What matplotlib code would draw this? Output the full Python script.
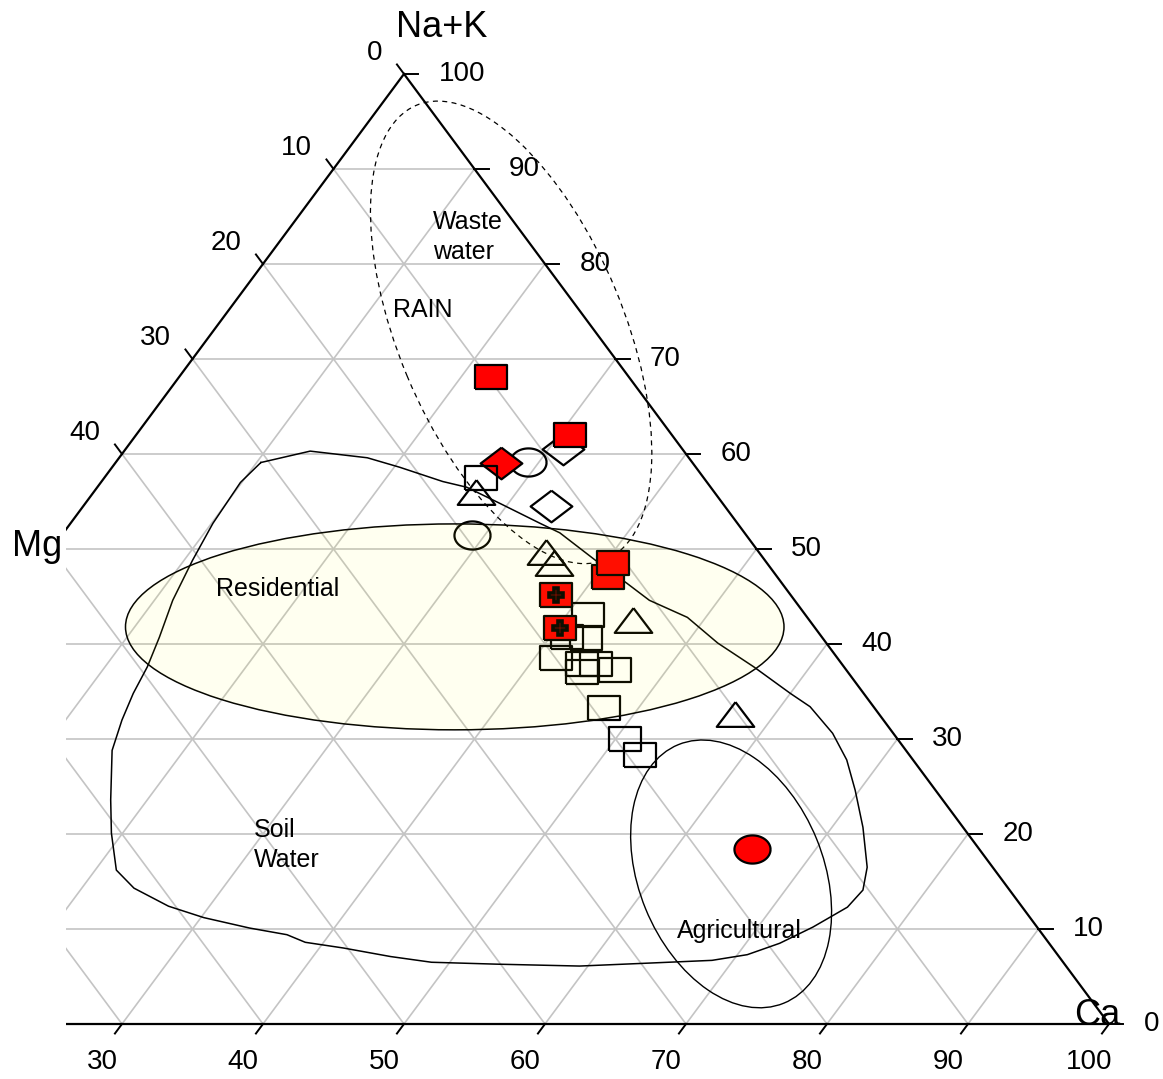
import numpy as np
import matplotlib
matplotlib.use("Agg")
import matplotlib.pyplot as plt
from matplotlib.patches import Ellipse

plt.rcParams['font.family'] = ['Liberation Sans', 'DejaVu Sans']

# --- samples, % of cations: Ca and Na+K (Mg is the rest) ---
red_sq_ca = [22.1, 30.8, 40.9, 40.6]
red_sq_nak = [68.1, 62.0, 47.1, 48.5]
red_cross_ca = [38.2, 40.2]
red_cross_nak = [45.2, 41.7]
red_dia_ca = [27.3]
red_dia_nak = [59.1]
red_circ_ca = [65.5]
red_circ_nak = [18.4]

open_sq_ca = [26.7, 41.5, 41.2, 42.6, 41.5, 43.7, 44.1, 44.7, 46.3, 47.5, 50.7, 52.6]
open_sq_nak = [57.5, 43.1, 40.7, 40.6, 38.5, 37.9, 37.1, 37.9, 37.3, 33.3, 30.0, 28.3]
open_tri_ca = [27.1, 35.2, 36.4, 45.0, 57.2]
open_tri_nak = [56.0, 49.7, 48.5, 42.5, 32.6]
open_circ_ca = [29.2, 29.1]
open_circ_nak = [59.2, 51.5]
open_dia_ca = [31.0, 33.2]
open_dia_nak = [60.5, 54.5]

# soil water field outline
soil_ca = [10.3, 13.2, 17.6, 20.4, 24.2, 26.2, 29.4, 33.3, 35.2, 39.6, 42.6, 45.1,
           48.7, 52.2, 56.0, 60.0, 62.1, 65.1, 67.5, 69.7, 72.2, 74.6, 75.5, 75.3,
           73.9, 72.4, 70.7, 68.5, 64.0, 59.4, 53.4, 48.7, 45.5, 41.7, 38.7, 37.0,
           34.0, 30.2, 27.1, 23.7, 21.5, 19.2, 17.4, 14.9, 14.0, 13.4, 13.0, 12.3,
           11.3, 10.6, 10.1, 9.9, 10.3]
soil_nak = [59.1, 60.3, 59.6, 58.6, 57.1, 56.5, 54.8, 52.7, 51.7, 48.5, 46.4, 44.6,
            42.8, 40.1, 37.6, 34.8, 33.4, 30.6, 27.8, 24.6, 20.7, 16.5, 14.1, 12.3,
            10.2, 8.5, 7.3, 6.7, 6.4, 6.1, 6.3, 6.5, 7.1, 8.0, 8.6, 9.4,
            10.1, 11.2, 12.4, 14.3, 16.2, 20.1, 23.6, 28.8, 32.0, 34.8, 37.6, 40.7,
            44.6, 48.8, 52.7, 57.0, 59.1]

tick_vals = list(range(0, 101, 10))

K = 9.5 / 14.1  # the printed triangle is squashed vertically


def tern(ca, nak):
    ca = np.asarray(ca, float)
    nak = np.asarray(nak, float)
    return ca + nak / 2.0, nak * K


fig = plt.figure(figsize=(11.63, 10.79), dpi=100)
ax = fig.add_axes([66 / 1163, 0, 1 - 66 / 1163, 1])
ax.set_xlim(26.03, 103.83)
ax.set_ylim(-3.90, 72.62)
ax.axis('off')

grid_c = '#c4c4c4'
for v in range(10, 100, 10):
    for ca, nak in (([0, 100 - v], [v, v]),
                    ([v, v], [0, 100 - v]),
                    ([100 - v, 0], [0, 100 - v])):
        x, y = tern(ca, nak)
        ax.plot(x, y, color=grid_c, lw=1.2, zorder=1)

# triangle edges
x, y = tern([0, 100, 0, 0], [0, 0, 100, 0])
ax.plot(x, y, color='k', lw=1.6, zorder=2, solid_joinstyle='miter')

# ticks and tick labels
tfs = 20
for v in tick_vals:
    # right edge (Na+K)
    x, y = tern([100 - v, 101 - v], [v, v])
    ax.plot(x, y, color='k', lw=1.4, zorder=2)
    ax.annotate(str(v), (x[0], y[0]), xytext=(24.8, 0), textcoords='offset points',
                ha='left', va='center', fontsize=tfs, clip_on=True)
    # bottom edge (Ca)
    x, y = tern([v, v], [0, -1])
    ax.plot(x, y, color='k', lw=1.4, zorder=2)
    ax.annotate(str(v), (x[0], y[0]), xytext=(-14.4, -27.7), textcoords='offset points',
                ha='center', va='center', fontsize=tfs, clip_on=True)
    # left edge (Mg)
    x, y = tern([0, -1], [100 - v, 101 - v])
    ax.plot(x, y, color='k', lw=1.4, zorder=2)
    ax.annotate(str(v), (x[0], y[0]), xytext=(-15.8, 15.1), textcoords='offset points',
                ha='right', va='center', fontsize=tfs, clip_on=True)

# fields
ax.add_patch(Ellipse(tern(21.2, 72.8), 34.9, 16.0, angle=-67.4, fill=False,
                     ec='k', lw=0.9, ls=(0, (4, 3.5)), zorder=3))
ax.add_patch(Ellipse(tern(32.7, 41.8), 46.7, 14.6, angle=0, fill=False,
                     ec='k', lw=1.1, zorder=3))
ax.add_patch(Ellipse(tern(65.3, 15.8), 19.8, 13.1, angle=-67.8, fill=False,
                     ec='k', lw=1.0, zorder=3))
x, y = tern(soil_ca, soil_nak)
ax.plot(x, y, color='k', lw=1.1, zorder=3)

# marker shapes (wider than tall, like the printed chart)
rect = [(-1, -0.75), (1, -0.75), (1, 0.75), (-1, 0.75), (-1, -0.75)]
tri = [(0, 0.66), (1, -0.66), (-1, -0.66), (0, 0.66)]
dia = [(0, 0.76), (1, 0), (0, -0.76), (-1, 0), (0, 0.76)]
th = np.linspace(0, 2 * np.pi, 60)
oval = list(zip(np.cos(th), 0.78 * np.sin(th)))

mk = dict(ls='none', mec='k', mew=1.6)
x, y = tern(open_dia_ca, open_dia_nak)
ax.plot(x, y, marker=dia, ms=30, mfc='none', zorder=4, **mk)
x, y = tern(open_circ_ca, open_circ_nak)
ax.plot(x, y, marker=oval, ms=26, mfc='none', zorder=4, **mk)
x, y = tern(red_dia_ca, red_dia_nak)
ax.plot(x, y, marker=dia, ms=30, mfc='red', zorder=5, **mk)
x, y = tern(open_sq_ca, open_sq_nak)
ax.plot(x, y, marker=rect, ms=23, mfc='none', zorder=6, **mk)
x, y = tern(open_tri_ca, open_tri_nak)
ax.plot(x, y, marker=tri, ms=27, mfc='none', zorder=6, **mk)
x, y = tern(red_sq_ca, red_sq_nak)
ax.plot(x, y, marker=rect, ms=23, mfc='red', zorder=7, **mk)
x, y = tern(red_cross_ca, red_cross_nak)
ax.plot(x, y, marker=rect, ms=23, mfc='red', zorder=7, **mk)
ax.plot(x, y, ls='none', marker='P', ms=10, mfc='red', mec='k', mew=2.6, zorder=7)
x, y = tern(red_circ_ca, red_circ_nak)
ax.plot(x, y, marker=oval, ms=26, mfc='red', zorder=7, **mk)

# pale yellow tint of the residential field, printed over the symbols
ax.add_patch(Ellipse(tern(32.7, 41.8), 46.7, 14.6, angle=0, facecolor='#ffff00',
                     alpha=0.06, lw=0, zorder=8))

# field labels
lfs = 18
ax.text(52.06, 55.82, 'Waste\nwater', fontsize=lfs, ha='left', va='center',
        linespacing=1.3, zorder=9)
ax.text(51.35, 50.64, 'RAIN', fontsize=lfs, ha='center', va='center', zorder=9)
ax.text(41.06, 30.85, 'Residential', fontsize=lfs, ha='center', va='center', zorder=9)
ax.text(39.36, 12.70, 'Soil\nWater', fontsize=lfs, ha='left', va='center',
        linespacing=1.35, zorder=9)
ax.text(73.76, 6.60, 'Agricultural', fontsize=lfs, ha='center', va='center', zorder=9)

# apex labels
ax.text(52.70, 70.64, 'Na+K', fontsize=26, ha='center', va='center')
ax.text(23.97, 33.83, 'Mg', fontsize=26, ha='center', va='center')
ax.text(99.15, 0.57, 'Ca', fontsize=26, ha='center', va='center', zorder=9)

fig.savefig('out.png', dpi=100, facecolor='white')
